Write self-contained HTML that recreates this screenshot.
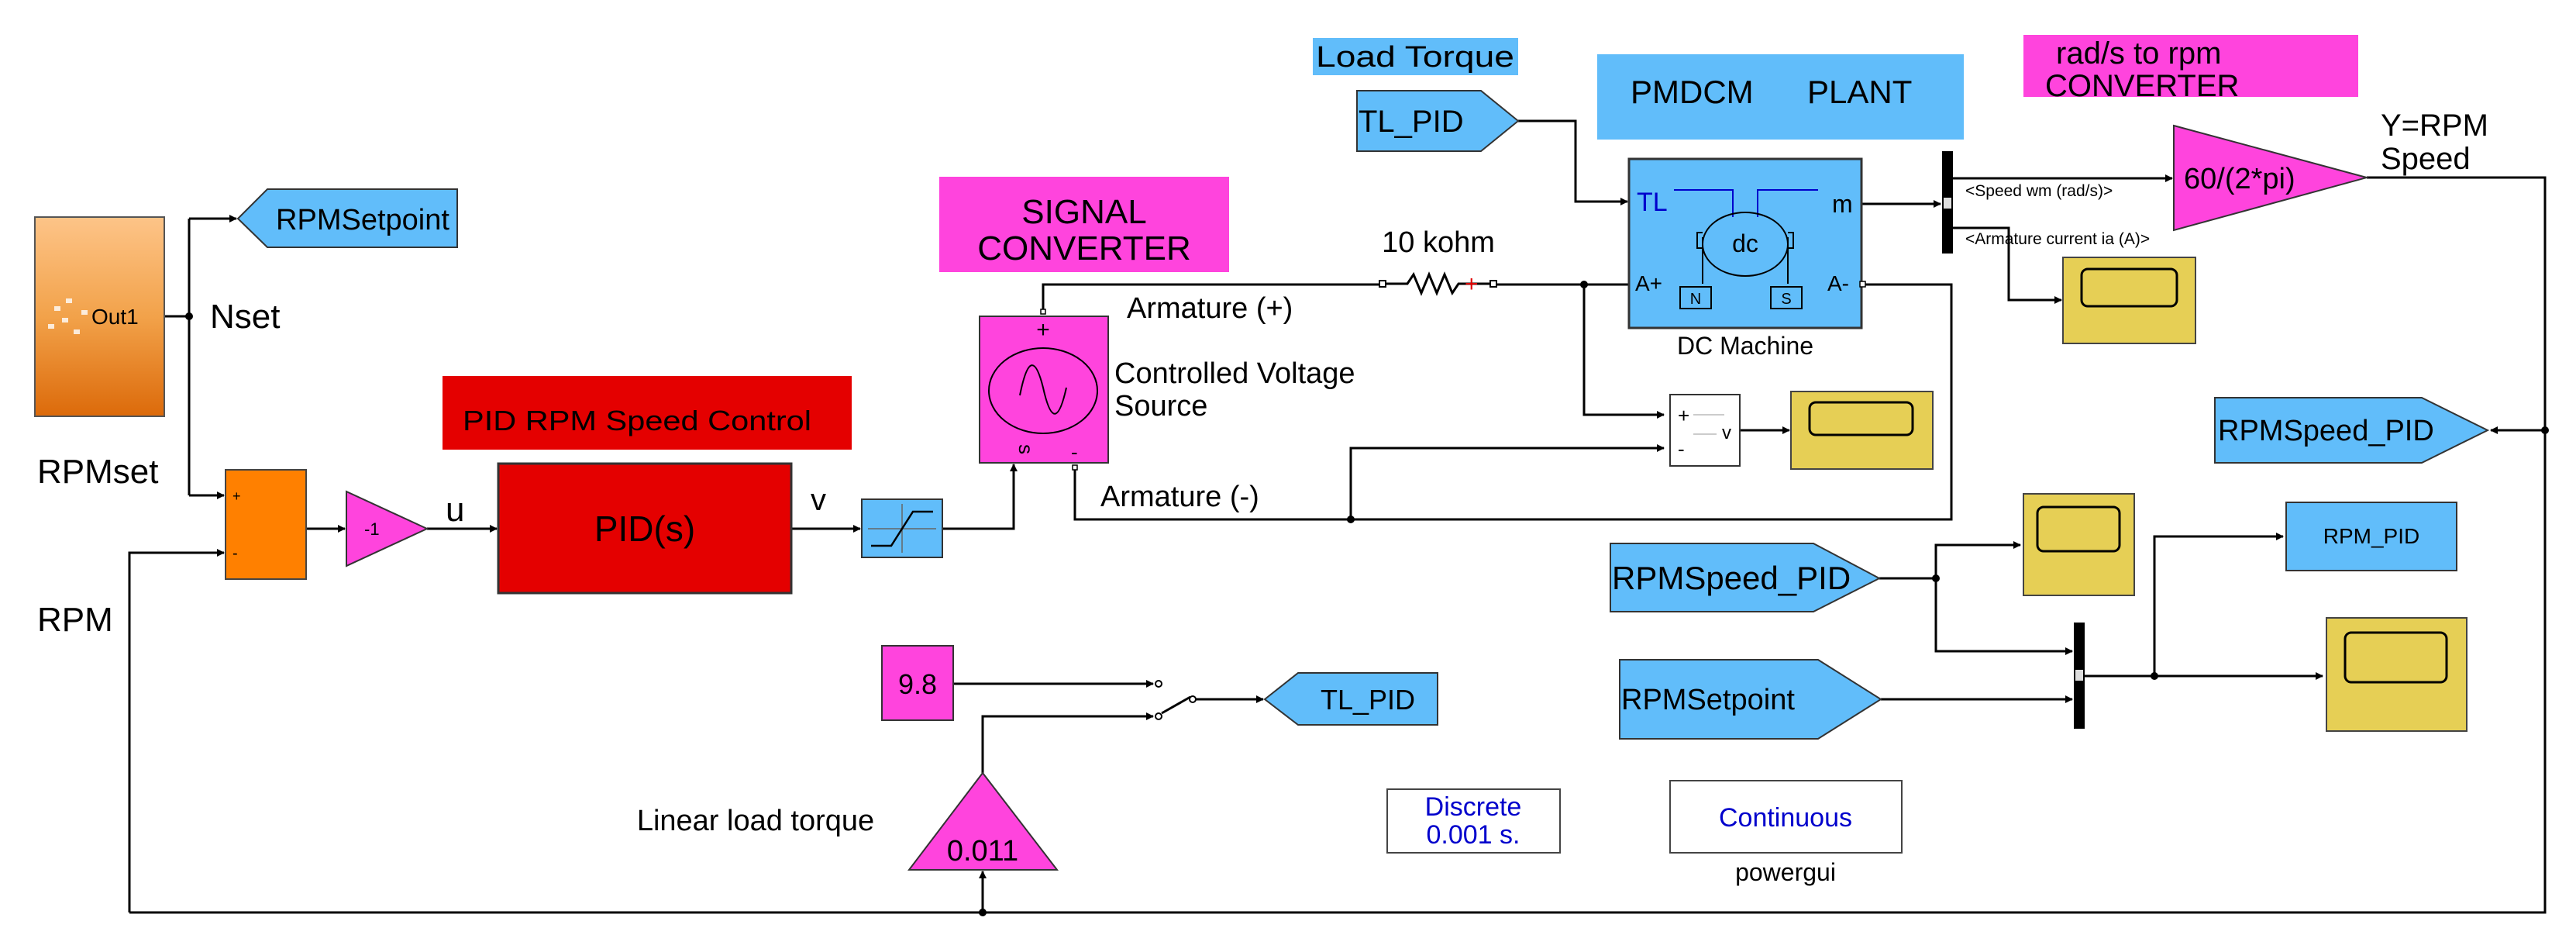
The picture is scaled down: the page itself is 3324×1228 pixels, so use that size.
<!DOCTYPE html>
<html><head><meta charset="utf-8"><style>
html,body{margin:0;padding:0;background:#fff;}
svg{display:block;}
text{font-family:"Liberation Sans",Arial,sans-serif;fill:#000;}
</style></head><body>
<svg width="3324" height="1228" viewBox="0 0 3324 1228" xmlns="http://www.w3.org/2000/svg">
<defs>
<linearGradient id="og" x1="0" y1="0" x2="0" y2="1">
<stop offset="0" stop-color="#fdc488"/><stop offset="0.5" stop-color="#f2a24a"/><stop offset="1" stop-color="#dc6a0a"/>
</linearGradient>
<marker id="ar" markerWidth="10" markerHeight="10" refX="9" refY="5" orient="auto" markerUnits="userSpaceOnUse" viewBox="0 0 10 10">
<path d="M0,0 L10,5 L0,10 z" fill="#000"/></marker>
</defs>
<style>.w{fill:none;stroke:#000;stroke-width:3;} .a{marker-end:url(#ar);}</style>

<rect x="1212" y="228" width="374" height="123" fill="#ff44dd"/>
<text x="1399" y="288" font-size="44" text-anchor="middle">SIGNAL</text>
<text x="1399" y="335" font-size="44" text-anchor="middle">CONVERTER</text>
<rect x="571" y="485" width="528" height="95" fill="#e40000"/>
<text x="597" y="555" font-size="36" textLength="450" lengthAdjust="spacingAndGlyphs">PID RPM Speed Control</text>
<rect x="1694" y="49" width="265" height="48" fill="#61bdfa"/>
<text x="1698" y="86" font-size="38" textLength="256" lengthAdjust="spacingAndGlyphs">Load Torque</text>
<rect x="2061" y="70" width="473" height="110" fill="#61bdfa"/>
<text x="2104" y="133" font-size="42">PMDCM</text>
<text x="2332" y="133" font-size="42">PLANT</text>
<rect x="2611" y="45" width="432" height="80" fill="#ff44dd"/>
<text x="2653" y="82" font-size="40">rad/s to rpm</text>
<text x="2639" y="124" font-size="40">CONVERTER</text>

<path class="w" d="M212,408 H244 M244,282 V639"/>
<path class="w a" d="M244,282 H305"/>
<path class="w a" d="M244,639 H289"/>
<path class="w a" d="M167,1177 V713 H289"/>
<path class="w a" d="M395,682 H445"/>
<path class="w a" d="M551,682 H641"/>
<path class="w a" d="M1021,682 H1110"/>
<path class="w a" d="M1216,682 H1308 V599"/>
<path class="w" d="M1346,402 V367 H1784 M1927,367 H2102"/>
<path class="w" d="M1387,603 V670 H2518 V367 H2402"/>
<path class="w a" d="M2044,367 V535 H2147"/>
<path class="w a" d="M1743,670 V578 H2147"/>
<path class="w a" d="M2245,555 H2309"/>
<path class="w a" d="M1959,156 H2033 V260 H2100"/>
<path class="w a" d="M2402,263 H2504"/>
<path class="w a" d="M2520,230 H2803"/>
<path class="w a" d="M2520,294 H2592 V387 H2660"/>
<path class="w" d="M3054,229 H3284 V1177 H167"/>
<path class="w a" d="M3284,555 H3214"/>
<path class="w a" d="M1268,1177 V1124"/>
<path class="w a" d="M1230,882 H1488"/>
<path class="w a" d="M1268,997 V924 H1488"/>
<path class="w" d="M1499,920 L1536,899"/>
<path class="w a" d="M1543,902 H1630"/>
<path class="w a" d="M2425,746 H2498 V703 H2607"/>
<path class="w a" d="M2498,746 V840 H2674"/>
<path class="w a" d="M2427,902 H2674"/>
<path class="w a" d="M2690,872 H2997"/>
<path class="w a" d="M2780,872 V692 H2946"/>
<g fill="#000">
<circle cx="244" cy="408" r="5"/><circle cx="2044" cy="367" r="5"/><circle cx="1743" cy="670" r="5"/>
<circle cx="3284" cy="555" r="5"/><circle cx="1268" cy="1177" r="5"/><circle cx="2498" cy="746" r="5"/><circle cx="2780" cy="872" r="5"/>
</g>
<circle cx="1495" cy="882" r="4" fill="#fff" stroke="#000" stroke-width="2"/>
<circle cx="1495" cy="924" r="4" fill="#fff" stroke="#000" stroke-width="2"/>
<circle cx="1539" cy="902" r="4" fill="#fff" stroke="#000" stroke-width="2"/>

<rect x="1780" y="362" width="8" height="8" fill="#fff" stroke="#000" stroke-width="2"/>
<rect x="1923" y="362" width="8" height="8" fill="#fff" stroke="#000" stroke-width="2"/>
<path class="w" d="M1788,366 H1816 L1824,354 L1834,378 L1844,354 L1854,378 L1864,354 L1874,378 L1882,366 H1923" stroke-width="2"/>
<text x="1890" y="376" font-size="30" style="fill:#e00000">+</text>
<text x="1856" y="325" font-size="38" text-anchor="middle">10 kohm</text>

<rect x="45" y="280" width="167" height="257" fill="url(#og)" stroke="#555" stroke-width="2"/>
<text x="118" y="418" font-size="28">Out1</text>
<g fill="#fff" opacity="0.8"><rect x="70" y="395" width="8" height="6"/><rect x="85" y="385" width="8" height="6"/><rect x="80" y="410" width="8" height="6"/><rect x="62" y="418" width="8" height="6"/><rect x="95" y="425" width="8" height="6"/><rect x="105" y="400" width="8" height="6"/></g>
<text x="271" y="423" font-size="44">Nset</text>
<text x="48" y="623" font-size="44">RPMset</text>
<text x="48" y="814" font-size="44">RPM</text>

<polygon points="307,282 345,244 590,244 590,319 345,319" fill="#61bdfa" stroke="#333" stroke-width="2"/>
<text x="468" y="296" font-size="38" text-anchor="middle">RPMSetpoint</text>

<rect x="291" y="606" width="104" height="141" fill="#ff8000" stroke="#444" stroke-width="2"/>
<text x="300" y="646" font-size="18">+</text><text x="300" y="720" font-size="20">-</text>
<polygon points="447,634 551,682 447,730" fill="#ff44dd" stroke="#333" stroke-width="2"/>
<text x="470" y="690" font-size="22">-1</text>
<text x="575" y="672" font-size="44">u</text>
<rect x="643" y="598" width="378" height="167" fill="#e40000" stroke="#333" stroke-width="3"/>
<text x="832" y="698" font-size="46" text-anchor="middle">PID(s)</text>
<text x="1046" y="658" font-size="40">v</text>
<rect x="1112" y="644" width="104" height="75" fill="#61bdfa" stroke="#333" stroke-width="2"/>
<path d="M1120,682 H1208 M1164,650 V713" stroke="#666" stroke-width="1.5" fill="none"/>
<path d="M1124,704 H1150 L1178,660 H1204" stroke="#000" stroke-width="2.5" fill="none"/>

<rect x="1264" y="408" width="166" height="189" fill="#ff44dd" stroke="#333" stroke-width="2"/>
<ellipse cx="1346" cy="504" rx="70" ry="55" fill="none" stroke="#000" stroke-width="2"/>
<path d="M1316,510 C1326,460 1336,460 1346,500 C1356,545 1366,545 1376,500" fill="none" stroke="#000" stroke-width="2"/>
<text x="1346" y="435" font-size="30" text-anchor="middle">+</text>
<text x="1300" y="578" font-size="26" transform="rotate(90 1310 583)">s</text>
<text x="1382" y="592" font-size="26">-</text>
<rect x="1343" y="399" width="6" height="6" fill="#fff" stroke="#000" stroke-width="1.5"/>
<rect x="1384" y="600" width="6" height="6" fill="#fff" stroke="#000" stroke-width="1.5"/>
<text x="1454" y="410" font-size="38">Armature (+)</text>
<text x="1438" y="494" font-size="38">Controlled Voltage</text>
<text x="1438" y="536" font-size="38">Source</text>
<text x="1420" y="653" font-size="38">Armature (-)</text>

<rect x="1138" y="833" width="92" height="96" fill="#ff44dd" stroke="#333" stroke-width="2"/>
<text x="1184" y="895" font-size="36" text-anchor="middle">9.8</text>
<polygon points="1268,997 1364,1122 1173,1122" fill="#ff44dd" stroke="#333" stroke-width="2"/>
<text x="1268" y="1110" font-size="38" text-anchor="middle">0.011</text>
<text x="975" y="1071" font-size="38" text-anchor="middle">Linear load torque</text>

<polygon points="1632,902 1675,868 1855,868 1855,935 1675,935" fill="#61bdfa" stroke="#333" stroke-width="2"/>
<text x="1765" y="915" font-size="36" text-anchor="middle">TL_PID</text>
<polygon points="1751,117 1911,117 1959,156 1911,195 1751,195" fill="#61bdfa" stroke="#333" stroke-width="2"/>
<text x="1753" y="170" font-size="40">TL_PID</text>

<rect x="2102" y="205" width="300" height="218" fill="#61bdfa" stroke="#333" stroke-width="3"/>
<rect x="2400" y="363" width="7" height="7" fill="#fff" stroke="#000" stroke-width="1.5"/>
<text x="2112" y="272" font-size="34" style="fill:#0000cc">TL</text>
<text x="2364" y="274" font-size="32">m</text>
<text x="2110" y="375" font-size="28">A+</text>
<text x="2358" y="375" font-size="28">A-</text>
<path d="M2160,245 H2236 V280 M2268,280 V245 H2346" stroke="#0000cc" stroke-width="2" fill="none"/>
<ellipse cx="2252" cy="315" rx="55" ry="41" fill="none" stroke="#000" stroke-width="2"/>
<text x="2252" y="325" font-size="32" text-anchor="middle">dc</text>
<path d="M2197,306 V366 M2307,306 V366 M2197,320 H2190 V300 H2197 M2307,320 H2314 V300 H2307" stroke="#000" stroke-width="2" fill="none"/>
<rect x="2168" y="370" width="40" height="28" fill="none" stroke="#000" stroke-width="2"/>
<text x="2188" y="392" font-size="20" text-anchor="middle">N</text>
<rect x="2285" y="370" width="40" height="28" fill="none" stroke="#000" stroke-width="2"/>
<text x="2305" y="392" font-size="20" text-anchor="middle">S</text>
<text x="2252" y="457" font-size="32" text-anchor="middle">DC Machine</text>

<rect x="2155" y="509" width="90" height="92" fill="#fff" stroke="#333" stroke-width="2"/>
<text x="2165" y="545" font-size="26">+</text><text x="2165" y="588" font-size="26">-</text>
<text x="2222" y="566" font-size="24">v</text>
<path d="M2185,535 H2225 M2185,560 H2215" stroke="#bbb" stroke-width="1.5"/>

<g stroke="#444" stroke-width="2" fill="#e6cf55">
<rect x="2311" y="505" width="183" height="100"/>
<rect x="2662" y="332" width="171" height="111"/>
<rect x="2611" y="637" width="143" height="131"/>
<rect x="3002" y="797" width="181" height="146"/>
</g>
<g stroke="#000" stroke-width="3" fill="none">
<rect x="2335" y="519" width="133" height="42" rx="8"/>
<rect x="2686" y="347" width="123" height="48" rx="8"/>
<rect x="2629" y="654" width="106" height="57" rx="8"/>
<rect x="3026" y="816" width="131" height="64" rx="8"/>
</g>

<rect x="2506" y="195" width="14" height="132" fill="#000"/>
<rect x="2508" y="255" width="10" height="14" fill="#ddd"/>
<rect x="2676" y="803" width="14" height="137" fill="#000"/>
<rect x="2678" y="864" width="10" height="14" fill="#ddd"/>
<text x="2536" y="253" font-size="21">&lt;Speed wm (rad/s)&gt;</text>
<text x="2536" y="315" font-size="21">&lt;Armature current ia (A)&gt;</text>

<polygon points="2805,162 3054,229 2805,297" fill="#ff44dd" stroke="#333" stroke-width="2"/>
<text x="2818" y="243" font-size="38">60/(2*pi)</text>
<text x="3072" y="175" font-size="40">Y=RPM</text>
<text x="3072" y="218" font-size="40">Speed</text>

<polygon points="2858,513 3125,513 3210,555 3125,597 2858,597" fill="#61bdfa" stroke="#333" stroke-width="2"/>
<text x="2862" y="568" font-size="38">RPMSpeed_PID</text>
<polygon points="2078,701 2340,701 2425,746 2340,789 2078,789" fill="#61bdfa" stroke="#333" stroke-width="2"/>
<text x="2080" y="760" font-size="42">RPMSpeed_PID</text>
<polygon points="2090,851 2346,851 2427,902 2346,953 2090,953" fill="#61bdfa" stroke="#333" stroke-width="2"/>
<text x="2092" y="915" font-size="38">RPMSetpoint</text>
<rect x="2950" y="648" width="220" height="88" fill="#61bdfa" stroke="#333" stroke-width="2"/>
<text x="3060" y="701" font-size="28" text-anchor="middle">RPM_PID</text>

<rect x="1790" y="1018" width="223" height="82" fill="#fff" stroke="#444" stroke-width="2"/>
<text x="1901" y="1052" font-size="34" text-anchor="middle" style="fill:#0000cc">Discrete</text>
<text x="1901" y="1088" font-size="34" text-anchor="middle" style="fill:#0000cc">0.001 s.</text>
<rect x="2155" y="1007" width="299" height="93" fill="#fff" stroke="#444" stroke-width="2"/>
<text x="2304" y="1066" font-size="34" text-anchor="middle" style="fill:#0000cc">Continuous</text>
<text x="2304" y="1136" font-size="32" text-anchor="middle">powergui</text>
</svg>
</body></html>
